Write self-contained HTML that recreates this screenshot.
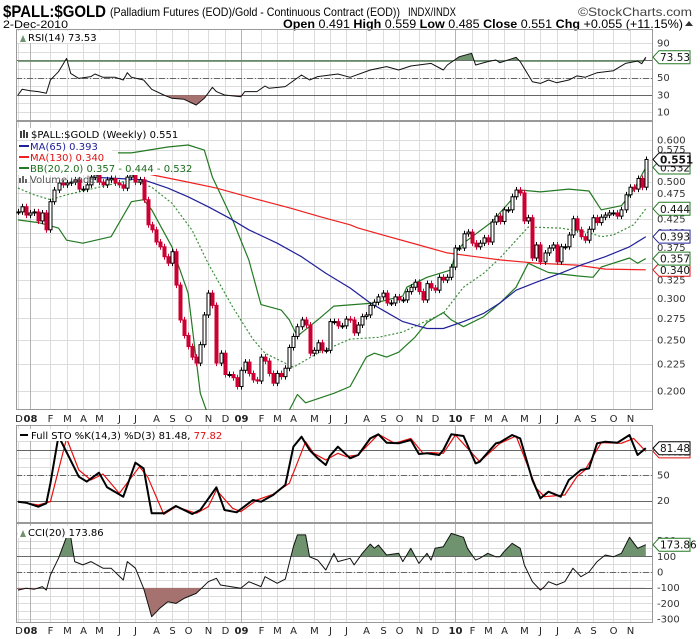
<!DOCTYPE html>
<html><head><meta charset="utf-8"><style>
html,body{margin:0;padding:0;background:#fff;}
svg{display:block;font-family:"DejaVu Sans","Liberation Sans",sans-serif;}
</style></head><body>
<svg id="chart" width="700" height="639" viewBox="0 0 700 639" xmlns="http://www.w3.org/2000/svg">
<defs>
<clipPath id="cRSI"><rect x="16" y="29" width="637" height="92"/></clipPath>
<clipPath id="cMain"><rect x="16" y="121" width="637" height="289"/></clipPath>
<clipPath id="cSTO"><rect x="16" y="425" width="637" height="98"/></clipPath>
<clipPath id="cCCI"><rect x="16" y="523" width="637" height="100"/></clipPath>
<clipPath id="rsiHi"><rect x="16" y="29" width="637" height="32.9"/></clipPath>
<clipPath id="rsiLo"><rect x="16" y="95.3" width="637" height="26"/></clipPath>
<clipPath id="cciHi"><rect x="16" y="523" width="637" height="33.3"/></clipPath>
<clipPath id="cciLo"><rect x="16" y="587.7" width="637" height="36"/></clipPath>
</defs>
<g>
<text x="3" y="17" font-family="Liberation Sans, sans-serif" font-weight="bold" font-size="17" textLength="103" lengthAdjust="spacingAndGlyphs">$PALL:$GOLD</text>
<text x="110" y="16" font-family="Liberation Sans, sans-serif" font-size="12" textLength="290" lengthAdjust="spacingAndGlyphs">(Palladium Futures (EOD)/Gold - Continuous Contract (EOD))</text>
<text x="408" y="16" font-family="Liberation Sans, sans-serif" font-size="12" textLength="48" lengthAdjust="spacingAndGlyphs">INDX/INDX</text>
<text x="578" y="16" font-family="Liberation Sans, sans-serif" font-size="12" fill="#444" textLength="114" lengthAdjust="spacingAndGlyphs">©StockCharts.com</text>
<text x="3" y="28" font-family="Liberation Sans, sans-serif" font-size="11" textLength="65" lengthAdjust="spacingAndGlyphs">2-Dec-2010</text>
<text x="283" y="28" font-family="Liberation Sans, sans-serif" font-size="12" textLength="400" lengthAdjust="spacingAndGlyphs"><tspan font-weight="bold">Open</tspan> 0.491  <tspan font-weight="bold">High</tspan> 0.559  <tspan font-weight="bold">Low</tspan> 0.485  <tspan font-weight="bold">Close</tspan> 0.551  <tspan font-weight="bold">Chg</tspan> +0.055 (+11.15%)</text>
<path d="M685,26 L689,21 L693,26 Z" fill="#333"/>
</g>
<g id="grid"></g>
<g id="marks"></g>
<g id="overlay"></g>
</svg>
<script>
// ---------- DATA ----------
const closes = [
.438,.448,.432,.436,.438,.421,.436,.405,.458,.482,
.497,.493,.497,.499,.504,.484,.484,.493,.510,.515,
.499,.493,.504,.507,.497,.493,.486,.510,.515,.499,
.504,.462,.414,.405,.384,.376,.360,.350,.368,.318,
.273,.255,.243,.232,.226,.245,.279,.307,.291,.226,
.236,.215,.215,.212,.204,.219,.227,.216,.210,.209,
.232,.228,.216,.207,.216,.213,.221,.242,.254,.265,
.273,.267,.236,.239,.247,.239,.239,.271,.271,.266,
.266,.274,.273,.258,.267,.277,.279,.291,.295,.302,
.307,.294,.294,.302,.298,.298,.309,.315,.322,.309,
.298,.320,.314,.311,.329,.325,.329,.344,.374,.374,
.398,.401,.382,.376,.382,.391,.384,.419,.430,.420,
.442,.442,.468,.482,.476,.421,.427,.358,.379,.352,
.366,.374,.379,.352,.376,.376,.396,.425,.405,.393,
.387,.406,.427,.418,.428,.432,.436,.436,.430,.442,
.472,.488,.484,.507,.488,.551];
const ma65 = [[18,.510],[31,.504],[37,.486],[42,.468],[47,.448],[52,.427],[57,.405],[64,.382],[70,.360],[76,.335],[82,.314],[87,.294],[95,.271],[101,.263],[105,.263],[110,.271],[115,.281],[119,.294],[123,.311],[128,.322],[134,.335],[139,.347],[145,.360],[151,.376],[155,.393]];
const ma130 = [[30,.520],[31,.519],[42,.499],[49,.486],[58,.465],[67,.446],[75,.428],[82,.414],[84,.408],[99,.379],[106,.366],[113,.360],[119,.355],[128,.350],[138,.347],[145,.341],[155,.340]];
const bbUpper = [[0,.575],[10,.570],[18,.567],[28,.567],[37,.582],[42,.587],[46,.574],[48,.510],[53,.423],[57,.355],[60,.292],[65,.285],[67,.273],[69,.254],[70,.258],[74,.273],[78,.290],[88,.294],[95,.303],[96,.315],[101,.329],[107,.340],[108,.366],[110,.382],[117,.419],[124,.482],[129,.478],[136,.484],[141,.480],[144,.442],[149,.450],[152,.482],[155,.532]];
const bbMid = [[0,.486],[4,.472],[8,.462],[12,.472],[20,.488],[28,.504],[33,.488],[38,.455],[43,.404],[47,.349],[53,.289],[58,.251],[61,.236],[68,.222],[74,.236],[82,.251],[89,.253],[95,.259],[100,.270],[105,.281],[110,.315],[115,.335],[119,.358],[126,.410],[134,.408],[141,.400],[144,.393],[147,.396],[152,.414],[155,.444]];
const bbLower = [[0,.423],[5,.418],[10,.408],[12,.387],[16,.382],[23,.393],[28,.458],[31,.462],[33,.442],[38,.376],[42,.307],[45,.198],[52,.140],[60,.120],[65,.160],[67,.184],[69,.197],[71,.190],[78,.198],[82,.204],[86,.232],[88,.236],[91,.232],[94,.237],[98,.253],[101,.270],[105,.282],[107,.273],[110,.265],[115,.277],[119,.294],[123,.315],[126,.350],[128,.344],[131,.336],[138,.331],[142,.329],[144,.344],[151,.358],[153,.350],[155,.357]];
const rsi = [[0,29.7],[1,36.3],[3,34.7],[5,33.6],[7,31.7],[8,47.1],[10,56.7],[12,72.1],[13,54.8],[15,49.0],[18,51.0],[19,54.1],[21,50.2],[24,50.2],[26,47.1],[27,55.6],[28,50.2],[31,47.1],[33,36.3],[36,29.7],[38,25.9],[41,24.7],[44,18.1],[46,25.9],[48,38.6],[49,33.6],[51,29.7],[55,27.7],[56,33.6],[59,33.6],[61,40.1],[62,37.5],[66,39.4],[70,52.9],[72,47.1],[74,51.0],[79,54.1],[82,50.2],[87,58.7],[91,62.6],[94,58.7],[97,63.3],[102,66.4],[105,58.7],[106,64.5],[109,74.1],[112,78.1],[113,64.5],[116,68.4],[118,70.3],[119,67.2],[123,73.4],[124,68.4],[127,45.1],[129,43.2],[131,47.1],[133,44.0],[136,47.1],[138,51.8],[140,50.2],[143,55.6],[147,57.9],[150,66.4],[153,69.0],[154,66.0],[155,73.53]];
const stoK = [[0,18.6],[2,17.4],[5,12.7],[7,16.7],[8,40.2],[10,95.9],[15,48.0],[17,42.2],[20,52.7],[22,35.5],[26,24.5],[29,64.5],[31,57.8],[33,4.9],[36,4.9],[39,13.5],[43,4.1],[45,8.8],[49,35.5],[51,8.8],[54,6.1],[58,20.6],[60,18.6],[63,26.5],[66,38.2],[68,83.3],[70,95.1],[72,79.4],[74,69.6],[76,61.8],[77,72.4],[79,83.3],[82,69.6],[84,73.5],[87,93.1],[89,97.9],[91,88.0],[94,87.3],[97,91.2],[99,74.7],[101,75.5],[104,73.5],[105,79.4],[107,97.9],[110,95.9],[113,63.7],[114,65.7],[118,87.3],[119,88.4],[122,97.1],[124,93.1],[127,44.1],[129,22.5],[131,30.4],[134,24.5],[136,44.1],[139,55.9],[141,57.8],[143,87.3],[145,89.2],[148,88.0],[151,97.1],[153,73.5],[155,81.48]];
const stoD = [[0,18.6],[5,14.7],[8,18.6],[12,93.1],[15,55.9],[18,44.1],[21,51.2],[25,28.4],[30,59.8],[32,48.0],[36,3.7],[39,12.7],[44,4.9],[47,12.7],[49,32.4],[53,10.8],[55,6.8],[59,20.6],[63,27.3],[67,40.2],[71,89.2],[73,75.5],[76,67.6],[79,75.5],[81,71.6],[84,73.5],[89,97.9],[93,87.3],[97,93.1],[100,75.5],[102,76.3],[105,75.5],[108,97.1],[114,65.7],[119,87.3],[123,95.9],[128,34.3],[130,24.5],[135,26.5],[138,48.0],[140,55.9],[144,88.0],[149,87.3],[152,93.1],[155,77.82]];
const cci = [[0,-115],[2,-104],[4,-110],[6,-93],[7,-115],[8,-19],[10,87],[12,225],[13,225],[14,66],[16,45],[18,66],[21,24],[23,24],[26,-51],[27,66],[29,24],[31,-104],[33,-285],[35,-231],[37,-189],[39,-200],[41,-168],[44,-136],[47,-62],[49,-40],[50,-83],[55,-104],[57,-62],[60,-93],[61,-30],[64,-72],[66,-45],[68,161],[69,236],[71,236],[72,97],[74,76],[76,13],[78,119],[79,66],[82,87],[83,45],[85,119],[87,178],[88,151],[89,172],[91,108],[94,119],[95,66],[97,151],[99,55],[101,119],[102,76],[103,151],[105,161],[107,246],[110,221],[111,151],[113,76],[114,87],[116,119],[118,97],[119,97],[120,129],[122,183],[124,151],[125,45],[127,-62],[129,-115],[130,-93],[131,-62],[133,-83],[135,-62],[137,24],[139,-30],[141,0],[143,66],[145,108],[147,97],[149,119],[151,221],[153,151],[155,173.86]];
const mainTicks = [0.200,0.225,0.250,0.275,0.300,0.325,0.350,0.375,0.400,0.425,0.450,0.475,0.500,0.525,0.550,0.575,0.600];
const mainTickLabels = ["0.200","0.225","0.250","0.275","0.300","0.325","0.350","0.375","0.400","0.425","0.450","0.475","0.500","0.525","0.550","0.575","0.600"];
const rsiTicks = [10,30,50,70,90];
const stoTicks = [20,50,80];
const cciTicks = [-300,-200,-100,0,100,200];
const monthLetters = ["J","F","M","A","M","J","J","A","S","O","N","D"];

// ---------- SCALES ----------
const NS = "http://www.w3.org/2000/svg";
const X0 = 16, X1 = 653;
function xOf(i){ return 18 + 4.05*i; }
function yMain(v){ return 140 + (Math.log(0.6) - Math.log(v))*228.5; }
function yRSI(v){ return 43 + (90 - v)*0.8625; }
function ySTO(v){ return 475 - (v - 50)*0.85; }
function yCCI(v){ return 572 - v*0.157; }
function mk(tag, attrs, parent){
  const el = document.createElementNS(NS, tag);
  for (const k in attrs) el.setAttribute(k, attrs[k]);
  parent.appendChild(el);
  return el;
}
const grid = document.getElementById('grid');
const marks = document.getElementById('marks');
const overlay = document.getElementById('overlay');

const panels = [
  {name:'rsi-panel', y0:29, y1:121},
  {name:'price-panel', y0:121, y1:410},
  {name:'sto-panel', y0:425, y1:523},
  {name:'cci-panel', y0:523, y1:623}
];
function hLine(y, color, dash, name){
  const l = mk('line', {x1:X0, x2:X1, y1:y, y2:y, stroke:color, 'stroke-width':1}, grid);
  if (dash) l.setAttribute('stroke-dasharray', dash);
  
  
}
for (let v=10; v<=90; v+=10) hLine(Math.round(yRSI(v))+0.5, '#dcdcdc', null, 'rsi-gridline');
mainTicks.forEach(v => hLine(Math.round(yMain(v))+0.5, '#dcdcdc', null, 'price-gridline'));
for (let v=10; v<=90; v+=10) hLine(Math.round(ySTO(v))+0.5, '#dcdcdc', null, 'sto-gridline');
for (let v=-300; v<=250; v+=50) hLine(Math.round(yCCI(v))+0.5, '#dcdcdc', null, 'cci-gridline');

// month gridlines and labels
const lastDate = new Date(2010, 11, 2);
function barDate(i){ return new Date(lastDate.getTime() - 7*(155 - i)*86400000); }
let prevM = -1;
for (let i=0; i<closes.length; i++){
  const d = barDate(i), m = d.getMonth();
  if (m !== prevM && xOf(i) < 640){
    const x = Math.round(xOf(i)) + 0.5;
    const isJan = m === 0;
    panels.forEach(p => {
      const l = mk('line', {x1:x, x2:x, y1:p.y0, y2:p.y1, stroke: isJan ? '#b4b4b4' : '#dcdcdc', 'stroke-width':1}, grid);
      
      
    });
    const txt = isJan ? String(d.getFullYear()).slice(2) : monthLetters[m];
    [422, 634].forEach(yy => {
      const t = mk('text', {x: Math.max(x, 19), y: yy, 'font-size':10, 'text-anchor':'middle', fill:'#222', 'font-weight': isJan ? 'bold' : 'normal'}, grid);
      t.textContent = txt;
      
      
    });
  }
  prevM = m;
}

hLine(Math.round(yRSI(70))+0.5, '#666', null, 'rsi-overbought-line');
hLine(Math.round(yRSI(30))+0.5, '#666', null, 'rsi-oversold-line');
hLine(Math.round(yRSI(50))+0.5, '#666', '6,2,1,2', 'rsi-midline');
hLine(Math.round(ySTO(80))+0.5, '#666', null, 'sto-upper-line');
hLine(Math.round(ySTO(20))+0.5, '#666', null, 'sto-lower-line');
hLine(Math.round(ySTO(50))+0.5, '#666', '6,2,1,2', 'sto-midline');
hLine(Math.round(yCCI(100))+0.5, '#666', null, 'cci-upper-line');
hLine(Math.round(yCCI(-100))+0.5, '#666', null, 'cci-lower-line');
hLine(Math.round(yCCI(0))+0.5, '#666', '6,2,1,2', 'cci-zero-line');

panels.forEach(p => {
  const r = mk('rect', {x:X0+0.5, y:p.y0+0.5, width:X1-X0-1, height:p.y1-p.y0-1, fill:'none', stroke:'#999', 'stroke-width':1}, grid);
  
  
});

function ptsStr(arr, yf){ return arr.map(p => xOf(p[0]).toFixed(1)+','+yf(p[1]).toFixed(1)).join(' '); }
function drawLine(arr, yf, color, width, clip, name, dash){
  const pl = mk('polyline', {points: ptsStr(arr, yf), fill:'none', stroke:color, 'stroke-width':width, 'clip-path':'url(#'+clip+')', 'stroke-linejoin':'round'}, marks);
  if (dash) pl.setAttribute('stroke-dasharray', dash);
  
  
}
function drawFill(arr, yf, thr, color, clip, name){
  const yt = yf(thr);
  const s = xOf(arr[0][0]).toFixed(1)+','+yt+' '+ptsStr(arr, yf)+' '+xOf(arr[arr.length-1][0]).toFixed(1)+','+yt;
  const pg = mk('polygon', {points:s, fill:color, stroke:'none', 'clip-path':'url(#'+clip+')'}, marks);
  
  
}

drawFill(rsi, yRSI, 70, '#6f936f', 'rsiHi', 'rsi-overbought-fill');
drawFill(rsi, yRSI, 30, '#a5726f', 'rsiLo', 'rsi-oversold-fill');
drawLine(rsi, yRSI, '#111', 1, 'cRSI', 'rsi-line');

drawLine(bbUpper, yMain, '#237a23', 1.2, 'cMain', 'bb-upper-band');
drawLine(bbLower, yMain, '#237a23', 1.2, 'cMain', 'bb-lower-band');
drawLine(bbMid, yMain, '#3b8f3b', 1.2, 'cMain', 'bb-middle-band', '2,2');
drawLine(ma130, yMain, '#f02020', 1.2, 'cMain', 'ma130-line');
drawLine(ma65, yMain, '#20209a', 1.2, 'cMain', 'ma65-line');

const cg = mk('g', {'clip-path':'url(#cMain)'}, marks);


for (let i=0; i<closes.length; i++){
  const open = i > 0 ? closes[i-1] : closes[0];
  const close = closes[i];
  const down = close < open;
  const color = down ? '#cc0033' : '#000';
  const yo = yMain(open), yc = yMain(close);
  const top = Math.min(yo, yc), bot = Math.max(yo, yc);
  const x = Math.round(xOf(i));
  const w = mk('line', {x1:x+0.5, x2:x+0.5, y1:top-3, y2:bot+3, stroke:color, 'stroke-width':1}, cg);
  
  
  const b = mk('rect', {x:x-1, y:top, width:3, height:Math.max(bot-top, 1), fill: down ? color : '#fff', stroke:color, 'stroke-width':1}, cg);
  
  
}

drawLine(stoD, ySTO, '#e81010', 1.2, 'cSTO', 'sto-d-line');
drawLine(stoK, ySTO, '#000', 2, 'cSTO', 'sto-k-line');

drawFill(cci, yCCI, 100, '#6f936f', 'cciHi', 'cci-positive-fill');
drawFill(cci, yCCI, -100, '#a5726f', 'cciLo', 'cci-negative-fill');
drawLine(cci, yCCI, '#111', 1, 'cCCI', 'cci-line');

function axisLabel(y, txt, name){
  const t = mk('text', {x:657, y:y+3.5, 'font-size':10, fill:'#333'}, overlay);
  t.textContent = txt;
  
  
}
mainTicks.forEach((v,k) => axisLabel(yMain(v), mainTickLabels[k], 'price-axis-label'));
rsiTicks.forEach(v => axisLabel(yRSI(v), String(v), 'rsi-axis-label'));
stoTicks.forEach(v => axisLabel(ySTO(v), String(v), 'sto-axis-label'));
cciTicks.forEach(v => axisLabel(yCCI(v), String(v), 'cci-axis-label'));

function tag(y, txt, color, bold, name){
  const p = mk('path', {d:'M653,'+y+' L659,'+(y-6.5)+' L690,'+(y-6.5)+' L690,'+(y+6.5)+' L659,'+(y+6.5)+' Z', fill:'#fff', stroke:color, 'stroke-width':1}, overlay);
  
  
  const t = mk('text', {x:660, y:y+4, 'font-size':10.5, fill:'#111', 'font-weight': bold ? 'bold' : 'normal'}, overlay);
  t.textContent = txt;
  
  
}
tag(yRSI(73.53), '73.53', '#237a23', false, 'rsi-value-tag');
tag(yMain(0.340), '0.340', '#e01010', false, 'ma130-value-tag');
tag(yMain(0.357), '0.357', '#237a23', false, 'bb-lower-value-tag');
tag(yMain(0.393), '0.393', '#20209a', false, 'ma65-value-tag');
tag(yMain(0.444), '0.444', '#237a23', false, 'bb-mid-value-tag');
tag(yMain(0.532), '0.532', '#237a23', false, 'bb-upper-value-tag');
tag(yMain(0.551), '0.551', '#000', true, 'price-value-tag');
tag(ySTO(77.82), '77.82', '#e01010', false, 'sto-d-value-tag');
tag(ySTO(81.48), '81.48', '#000', false, 'sto-k-value-tag');
tag(yCCI(173.86), '173.86', '#237a23', false, 'cci-value-tag');
</script>
<script>
(function(){
  const NS = "http://www.w3.org/2000/svg";
  const svg = document.getElementById('chart');
  const g = document.createElementNS(NS, 'g');
  
  
  svg.appendChild(g);
  g.innerHTML =
  '<rect x="18" y="31" width="88" height="12" fill="#fff"/>' +
  '<path d="M20,42 L23,35 L26,42 Z" fill="#6f936f"/>' +
  '<text x="28" y="41" font-size="10">RSI(14) 73.53</text>' +
  '<rect x="18" y="128" width="172" height="12" fill="#fff"/>' +
  '<path d="M21,131 v7 M24,130 v8 M27,132 v6" stroke="#000" stroke-width="1.5"/>' +
  '<text x="31" y="138" font-size="10">$PALL:$GOLD (Weekly) 0.551</text>' +
  '<rect x="18" y="141" width="94" height="12" fill="#fff"/>' +
  '<line x1="19" x2="29" y1="146" y2="146" stroke="#20209a" stroke-width="2"/>' +
  '<text x="30" y="150" font-size="10" fill="#20209a">MA(65) 0.393</text>' +
  '<rect x="18" y="152" width="100" height="12" fill="#fff"/>' +
  '<line x1="19" x2="29" y1="157" y2="157" stroke="#f02020" stroke-width="2"/>' +
  '<text x="30" y="161" font-size="10" fill="#e01010">MA(130) 0.340</text>' +
  '<rect x="18" y="163" width="148" height="12" fill="#fff"/>' +
  '<line x1="19" x2="29" y1="168" y2="168" stroke="#237a23" stroke-width="2"/>' +
  '<text x="30" y="172" font-size="10" fill="#1d6e1d">BB(20,2.0) 0.357 - 0.444 - 0.532</text>' +
  '<path d="M20,183 v-5 M23,183 v-7 M26,183 v-4" stroke="#666" stroke-width="2"/>' +
  '<text x="30" y="183" font-size="10" fill="#555">Volume undef</text>' +
  '<rect x="18" y="429" width="226" height="12" fill="#fff"/>' +
  '<line x1="20" x2="28" y1="435" y2="435" stroke="#000" stroke-width="2"/>' +
  '<text x="31" y="439" font-size="10">Full STO %K(14,3) %D(3) 81.48, <tspan fill="#e01010">77.82</tspan></text>' +
  '<rect x="18" y="526" width="100" height="12" fill="#fff"/>' +
  '<path d="M20,537 L23,530 L26,537 Z" fill="#6f936f"/>' +
  '<text x="28" y="536" font-size="10">CCI(20) 173.86</text>';
})();
</script>
</body></html>
